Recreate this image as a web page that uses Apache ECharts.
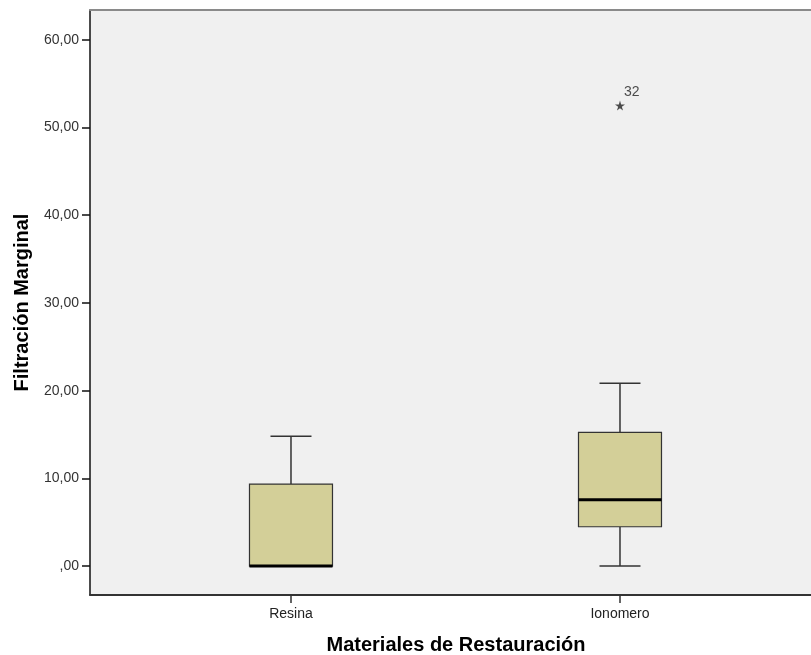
<!DOCTYPE html>
<html><head><meta charset="utf-8">
<script src="https://cdn.jsdelivr.net/npm/echarts@6/dist/echarts.min.js"></script>
<style>html,body{margin:0;padding:0;background:#fff}#c{width:811px;height:655px}</style>
</head><body><div id="c"></div>
<script>
const categories = ['Resina', 'Ionomero'];
const positions = [1, 2];
const mins = [0, 0];
const q1s = [0, 4.48];
const medians = [0, 7.56];
const q3s = [9.35, 15.24];
const maxs = [14.8, 20.83];
const outlierPos = [2];
const outlierVals = [52.5];
const outlierLabels = ['32'];
const yTicks = [0, 10, 20, 30, 40, 50, 60];

const boxData = positions.map((p, i) => [p, mins[i], q1s[i], medians[i], q3s[i], maxs[i]]);
const outData = outlierPos.map((p, i) => ({ value: [p, outlierVals[i]], name: outlierLabels[i] }));

const FONT = '"Liberation Sans", Arial, sans-serif';
const EDGE = '#333';

function renderItem(params, api) {
  const x = api.value(0);
  const c = v => api.coord([x, v]);
  const half = 41.5, cap = 20.5;
  const pMin = c(api.value(1)), pQ1 = c(api.value(2)), pMed = c(api.value(3)),
        pQ3 = c(api.value(4)), pMax = c(api.value(5));
  const cx = pMin[0];
  const kids = [];
  const line = (x1, y1, x2, y2, w, col) => ({ type: 'line', shape: { x1, y1, x2, y2 }, style: { stroke: col || EDGE, lineWidth: w } });
  if (pQ3[1] - pMax[1] > 0.5) {
    kids.push(line(cx, pQ3[1], cx, pMax[1], 1.5));
    kids.push(line(cx - cap, pMax[1], cx + cap, pMax[1], 1.5));
  }
  if (pMin[1] - pQ1[1] > 0.5) {
    kids.push(line(cx, pQ1[1], cx, pMin[1], 1.5));
    kids.push(line(cx - cap, pMin[1], cx + cap, pMin[1], 1.5));
  }
  kids.push({ type: 'rect', shape: { x: cx - half, y: pQ3[1], width: half * 2, height: pQ1[1] - pQ3[1] },
    style: { fill: '#d3cf98', stroke: EDGE, lineWidth: 1.2 } });
  kids.push(line(cx - half, pMed[1], cx + half, pMed[1], 3, '#000'));
  return { type: 'group', children: kids };
}

const chart = echarts.init(document.getElementById('c'), null, { renderer: 'canvas' });
chart.setOption({
  animation: false,
  backgroundColor: '#fff',
  textStyle: { fontFamily: FONT },
  grid: { left: 90, top: 10, height: 585, width: 732, outerBoundsMode: 'none', containLabel: false,
    show: true, backgroundColor: '#f0f0f0', borderWidth: 0 },
  xAxis: [{
    type: 'value', min: 0.3891, max: 2.614,
    name: 'Materiales de Restauración', nameLocation: 'middle', nameGap: 40,
    nameTextStyle: { fontFamily: FONT, fontWeight: 'bold', fontSize: 20, color: '#000' },
    axisLine: { show: true, onZero: false, lineStyle: { color: '#333', width: 2 } },
    axisTick: { show: true, length: 8, customValues: positions, lineStyle: { color: '#333', width: 1.5 } },
    axisLabel: { customValues: positions, margin: 12, fontFamily: FONT, fontSize: 14, color: '#222',
      formatter: v => categories[positions.indexOf(v)] || '' },
    splitLine: { show: false }
  }, {
    type: 'value', position: 'top', min: 0, max: 1,
    axisLine: { show: true, onZero: false, lineStyle: { color: '#8a8a8a', width: 2 } },
    axisTick: { show: false }, axisLabel: { show: false }, splitLine: { show: false }
  }],
  yAxis: {
    type: 'value', min: -3.3, max: 63.4,
    name: 'Filtración Marginal', nameLocation: 'middle', nameGap: 58,
    nameTextStyle: { fontFamily: FONT, fontWeight: 'bold', fontSize: 20, color: '#000' },
    axisLine: { show: true, onZero: false, lineStyle: { color: '#111', width: 1.5 } },
    axisTick: { show: true, length: 8, customValues: yTicks, lineStyle: { color: '#111', width: 1.5 } },
    axisLabel: { customValues: yTicks, margin: 11, fontFamily: FONT, fontSize: 14, color: '#333',
      formatter: v => v === 0 ? ',00' : v.toFixed(2).replace('.', ',') },
    splitLine: { show: false }
  },
  series: [{
    type: 'custom', renderItem: renderItem, data: boxData,
    encode: { x: 0, y: [1, 2, 3, 4, 5] }, clip: false
  }, {
    type: 'scatter', data: outData,
    symbol: 'path://M50,0 L61,35 L98,35 L68,57 L79,91 L50,70 L21,91 L32,57 L2,35 L39,35 Z',
    symbolSize: 10, itemStyle: { color: '#222' },
    label: { show: true, formatter: '{b}', position: [9, -15], align: 'left', verticalAlign: 'top',
      fontFamily: FONT, fontSize: 14, color: '#222' }
  }]
});
</script></body></html>
